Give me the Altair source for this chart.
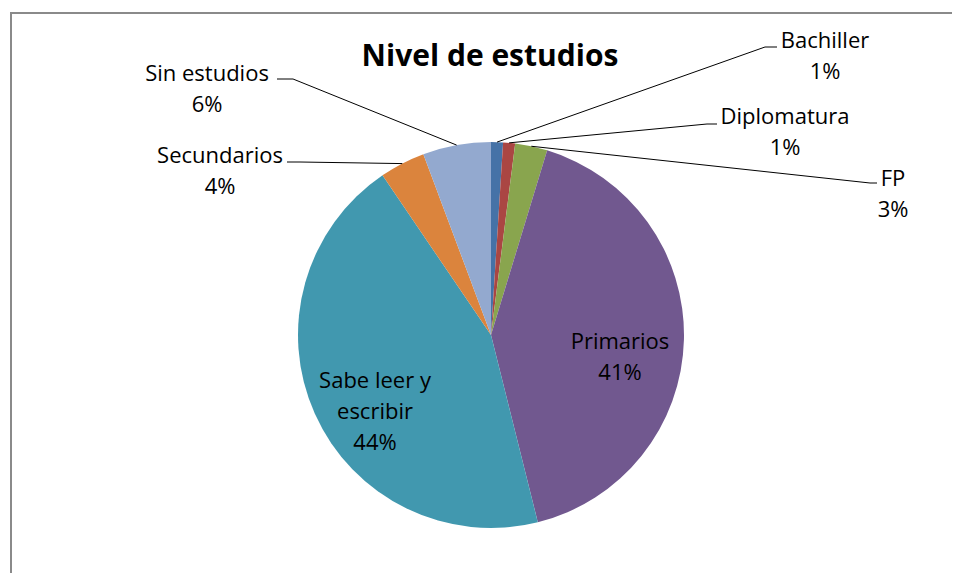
import altair as alt
import pandas as pd

# ---- data ----
categories = ["Bachiller", "Diplomatura", "FP", "Primarios",
              "Sabe leer y escribir", "Secundarios", "Sin estudios"]
label_names = ["Bachiller", "Diplomatura", "FP", "Primarios",
               "Sabe leer y\nescribir", "Secundarios", "Sin estudios"]
shares = [1.0, 1.0, 2.7, 41.4, 44.4, 3.8, 5.7]
colors = ["#4572A7", "#AA4643", "#89A54E", "#71588F",
          "#4198AF", "#DB843D", "#93A9CF"]
title_text = "Nivel de estudios"

# ---- layout (view pixels) ----
CX, CY, R = 483, 327, 193
label_cx = [817, 777, 885, 612, 367, 212, 199]
label_cy = [32, 108, 170, 333, 372, 147, 65]      # centre of first text line
leader = [True, True, True, False, False, True, True]
leader_end_x = [769, 709, 869, 0, 0, 279, 269]
leader_elbow_x = [757, 699, 862, 0, 0, 292, 285]
leader_y = [39, 116, 175, 0, 0, 154, 71]

FONT = "Open Sans"
FS = 22
LH = 31
W, H = 944, 565

df = pd.DataFrame({
    "category": categories,
    "name": label_names,
    "share": shares,
    "order": list(range(len(categories))),
    "lx": label_cx,
    "ly": label_cy,
    "leader": leader,
    "ex": leader_end_x,
    "bx": leader_elbow_x,
    "ey": leader_y,
})

base = alt.Chart(df).transform_joinaggregate(
    total="sum(share)"
).transform_window(
    cum="sum(share)", sort=[alt.SortField("order")], frame=[None, 0]
).transform_calculate(
    mid="2*PI*(datum.cum - datum.share/2)/datum.total",
    ax=f"{CX} + {R}*sin(datum.mid)",
    ay=f"{CY} - {R}*cos(datum.mid)",
    label="datum.name + '\\n' + round(100*datum.share/datum.total) + '%'",
)

pie = alt.Chart(df).mark_arc(radius=R).encode(
    theta=alt.Theta("share:Q", stack=True),
    order=alt.Order("order:Q"),
    color=alt.Color("category:N", scale=alt.Scale(domain=categories, range=colors), legend=None),
    x=alt.value(CX),
    y=alt.value(CY),
)

lead = base.transform_filter("datum.leader")
rule1 = lead.mark_rule(color="#000000", strokeWidth=1).encode(
    x=alt.X("ax:Q", scale=None, axis=None),
    y=alt.Y("ay:Q", scale=None, axis=None),
    x2="bx:Q",
    y2="ey:Q",
)
rule2 = lead.mark_rule(color="#000000", strokeWidth=1).encode(
    x=alt.X("bx:Q", scale=None, axis=None),
    y=alt.Y("ey:Q", scale=None, axis=None),
    x2="ex:Q",
    y2="ey:Q",
)

labels = base.mark_text(
    font=FONT, fontSize=FS, lineHeight=LH, lineBreak="\n",
    align="center", baseline="top", dy=-9.5, color="#000000"
).encode(
    x=alt.X("lx:Q", scale=None, axis=None),
    y=alt.Y("ly:Q", scale=None, axis=None),
    text="label:N",
)

tdf = pd.DataFrame({"t": [title_text]})
title = alt.Chart(tdf).mark_text(
    font=FONT, fontSize=30, fontWeight="bold", align="center", baseline="middle", color="#000000"
).encode(x=alt.value(482), y=alt.value(49), text="t:N")

# chart frame: only the top and left edges are inside the picture
frame_top = alt.Chart(tdf).mark_rule(color="#8a8a8a", strokeWidth=2).encode(
    x=alt.value(2), x2=alt.value(W), y=alt.value(5)
)
frame_left = alt.Chart(tdf).mark_rule(color="#8a8a8a", strokeWidth=2).encode(
    x=alt.value(3), y=alt.value(4), y2=alt.value(H)
)

chart = alt.layer(frame_top, frame_left, pie, rule1, rule2, labels, title).properties(
    width=W, height=H, padding=0, autosize="none"
).configure(
    background="white", view=alt.ViewConfig(stroke=None)
)

chart.save("out.html", embed_options={"renderer": "svg", "actions": False})
